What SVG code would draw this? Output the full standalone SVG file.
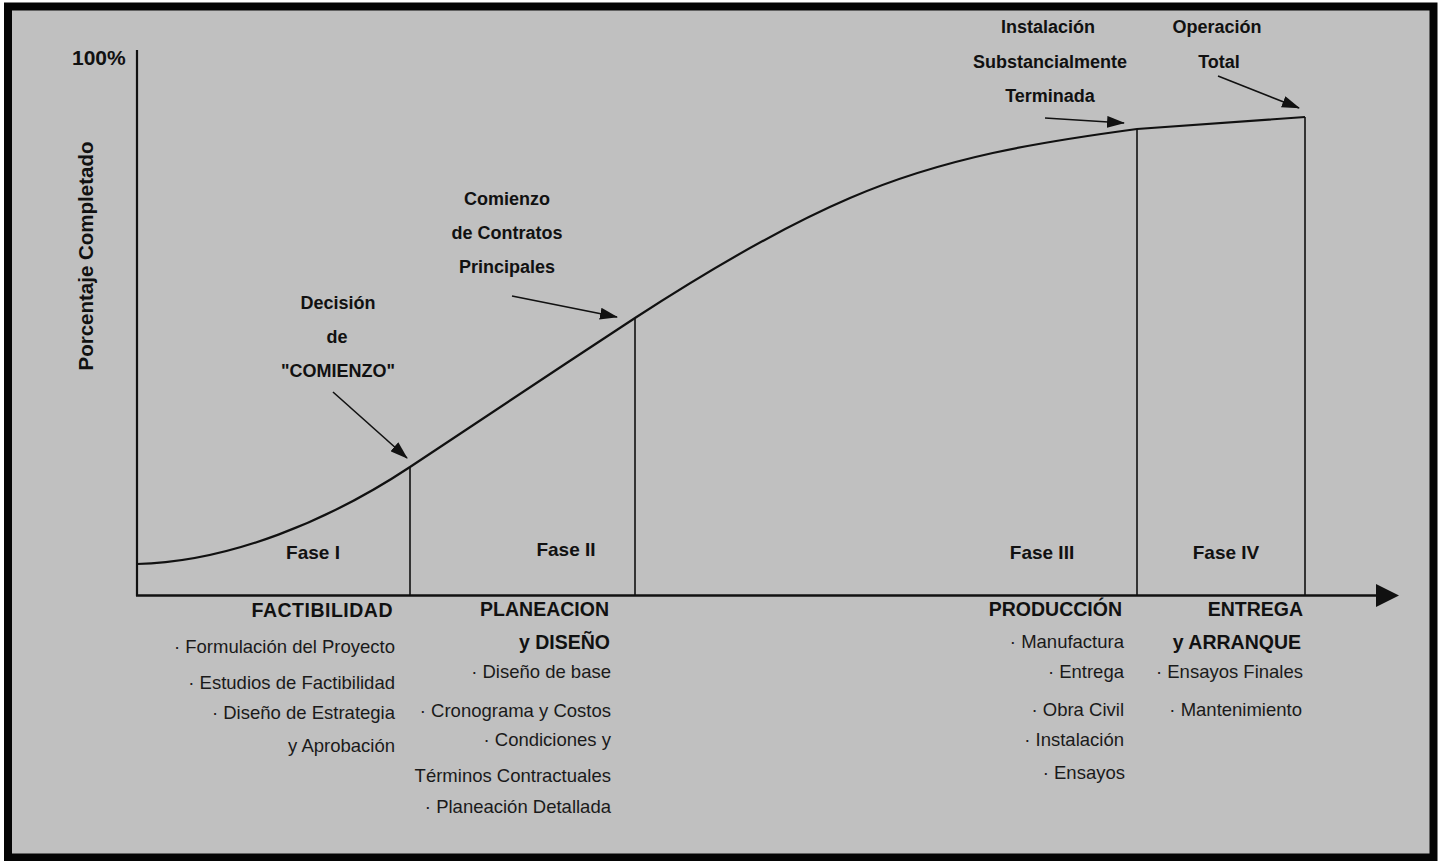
<svg xmlns="http://www.w3.org/2000/svg" width="1445" height="861" viewBox="0 0 1445 861">
  <style>
    .b { font-family: "Liberation Sans", Arial, sans-serif; font-weight: bold; font-size: 18px; fill: #111; }
    .h { font-family: "Liberation Sans", Arial, sans-serif; font-weight: bold; font-size: 19.5px; fill: #111; text-anchor: end; }
    .r { font-family: "Liberation Sans", Arial, sans-serif; font-size: 18.5px; fill: #1a1a1a; text-anchor: end; }
    .c { text-anchor: middle; }
    .ln { stroke: #111; fill: none; }
    .arr { stroke: #111; stroke-width: 1.6; fill: none; marker-end: url(#ah); }
  </style>
  <defs>
    <marker id="ah" viewBox="0 0 18 12" refX="17" refY="6" markerWidth="18" markerHeight="12" markerUnits="userSpaceOnUse" orient="auto">
      <path d="M0,0 L18,6 L0,12 Z" fill="#111"/>
    </marker>
  </defs>
  <rect x="0" y="0" width="1445" height="861" fill="#ffffff"/>
  <rect x="8" y="6.5" width="1425.5" height="851" fill="#c0c0c0" stroke="#050505" stroke-width="8"/>

  <g id="axes">
    <line class="ln" x1="137" y1="50" x2="137" y2="596" stroke-width="2.2"/>
    <line class="ln" x1="136" y1="595.5" x2="1380" y2="595.5" stroke-width="2.6"/>
    <polygon points="1376,584 1399,595.5 1376,607" fill="#111"/>
    <text id="y-max" class="b" x="72" y="65" style="font-size:21px">100%</text>
    <text id="y-label" class="b" transform="translate(93,256) rotate(-90)" text-anchor="middle" style="font-size:20.5px">Porcentaje Completado</text>
  </g>

  <g id="curve">
    <path class="ln" stroke-width="2.2" d="M137,564 C230,562 330,520 410,467 C490,414 560,367 635,318 C705,272.5 780,228 850,198 C945,157 1040,142 1137,129 L1305,117"/>
  </g>

  <g id="phase-dividers">
    <line class="ln" x1="410" y1="467" x2="410" y2="596" stroke-width="1.6"/>
    <line class="ln" x1="635" y1="318" x2="635" y2="596" stroke-width="1.6"/>
    <line class="ln" x1="1137" y1="129" x2="1137" y2="596" stroke-width="1.6"/>
    <line class="ln" x1="1305" y1="117" x2="1305" y2="596" stroke-width="1.6"/>
  </g>

  <g id="connectors">
    <line class="arr" x1="333" y1="392" x2="407" y2="458"/>
    <line class="arr" x1="512" y1="296" x2="617" y2="317"/>
    <line class="arr" x1="1045" y1="118" x2="1124" y2="123"/>
    <line class="arr" x1="1218" y1="76" x2="1299" y2="108"/>
  </g>

  <g id="milestone-decision">
    <text class="b c" x="338" y="309">Decisión</text>
    <text class="b c" x="337" y="343">de</text>
    <text class="b c" x="338" y="377">"COMIENZO"</text>
  </g>
  <g id="milestone-contratos">
    <text class="b c" x="507" y="205">Comienzo</text>
    <text class="b c" x="507" y="239">de Contratos</text>
    <text class="b c" x="507" y="273">Principales</text>
  </g>
  <g id="milestone-instalacion">
    <text class="b c" x="1048" y="33">Instalación</text>
    <text class="b c" x="1050" y="68">Substancialmente</text>
    <text class="b c" x="1050" y="102">Terminada</text>
  </g>
  <g id="milestone-operacion">
    <text class="b c" x="1217" y="33">Operación</text>
    <text class="b c" x="1219" y="68">Total</text>
  </g>

  <g id="fase-1">
    <text class="b c" x="313" y="559" style="font-size:19px">Fase I</text>
  </g>
  <g id="fase-2">
    <text class="b c" x="566" y="556" style="font-size:19px">Fase II</text>
  </g>
  <g id="fase-3">
    <text class="b c" x="1042" y="559" style="font-size:19px">Fase III</text>
  </g>
  <g id="fase-4">
    <text class="b c" x="1226" y="559" style="font-size:19px">Fase IV</text>
  </g>

  <g id="factibilidad">
    <text class="h" x="393" y="617" letter-spacing="0.5">FACTIBILIDAD</text>
    <text class="r" x="395" y="653">· Formulación del Proyecto</text>
    <text class="r" x="395" y="689">· Estudios de Factibilidad</text>
    <text class="r" x="395" y="719">· Diseño de Estrategia</text>
    <text class="r" x="395" y="752">y Aprobación</text>
  </g>
  <g id="planeacion">
    <text class="h" x="609" y="616">PLANEACION</text>
    <text class="h" x="610" y="649">y DISEÑO</text>
    <text class="r" x="611" y="678">· Diseño de base</text>
    <text class="r" x="611" y="717">· Cronograma y Costos</text>
    <text class="r" x="611" y="746">· Condiciones y</text>
    <text class="r" x="611" y="782">Términos Contractuales</text>
    <text class="r" x="611" y="813">· Planeación Detallada</text>
  </g>
  <g id="produccion">
    <text class="h" x="1122" y="616">PRODUCCIÓN</text>
    <text class="r" x="1124" y="648">· Manufactura</text>
    <text class="r" x="1124" y="678">· Entrega</text>
    <text class="r" x="1124" y="716">· Obra Civil</text>
    <text class="r" x="1124" y="746">· Instalación</text>
    <text class="r" x="1125" y="779">· Ensayos</text>
  </g>
  <g id="entrega">
    <text class="h" x="1303" y="616">ENTREGA</text>
    <text class="h" x="1301" y="649">y ARRANQUE</text>
    <text class="r" x="1303" y="678">· Ensayos Finales</text>
    <text class="r" x="1302" y="716">· Mantenimiento</text>
  </g>
</svg>
